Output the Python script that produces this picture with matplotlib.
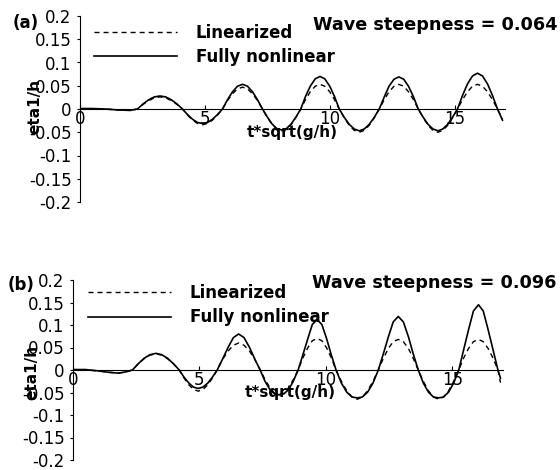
import matplotlib
matplotlib.use('Agg')
import matplotlib.pyplot as plt
from matplotlib.ticker import FuncFormatter

plt.rcParams['font.family'] = 'DejaVu Sans'
plt.rcParams['axes.unicode_minus'] = False

# ---- data ----
# panel (a): wave steepness 0.064
t_a = [0.0, 0.5, 1.0, 1.5, 2.0, 2.3,
       2.525, 2.75, 2.975, 3.2, 3.425, 3.65, 3.875, 4.1,
       4.3, 4.5, 4.7, 4.9, 5.1, 5.3, 5.5, 5.7,
       5.9, 6.1, 6.3, 6.5, 6.7, 6.9, 7.1, 7.3,
       7.49, 7.68, 7.87, 8.07, 8.26, 8.45, 8.64, 8.83,
       9.02, 9.21, 9.41, 9.6, 9.79, 9.99, 10.18, 10.37,
       10.57, 10.77, 10.97, 11.17, 11.37, 11.57, 11.77, 11.97,
       12.17, 12.36, 12.56, 12.75, 12.95, 13.14, 13.34, 13.53,
       13.73, 13.92, 14.12, 14.32, 14.51, 14.71, 14.9, 15.1,
       15.3, 15.5, 15.7, 15.9, 16.1, 16.3, 16.5, 16.7, 16.9]
lin_a = [0.0, 0.0, 0.0, -0.002, -0.003, 0.0,
         0.010, 0.018, 0.024, 0.026, 0.024, 0.018, 0.010, 0.0,
         -0.013, -0.024, -0.031, -0.034, -0.031, -0.024, -0.013, 0.0,
         0.018, 0.033, 0.043, 0.047, 0.043, 0.033, 0.018, 0.0,
         -0.018, -0.033, -0.043, -0.047, -0.043, -0.033, -0.018, 0.0,
         0.020, 0.037, 0.049, 0.053, 0.049, 0.037, 0.020, 0.0,
         -0.019, -0.035, -0.046, -0.050, -0.046, -0.035, -0.019, 0.0,
         0.020, 0.037, 0.049, 0.053, 0.049, 0.037, 0.020, 0.0,
         -0.019, -0.035, -0.046, -0.050, -0.046, -0.035, -0.019, 0.0,
         0.020, 0.037, 0.049, 0.053, 0.049, 0.037, 0.020, 0.0, -0.022]
nl_a = [0.001, 0.001, 0.0, -0.002, -0.003, 0.0,
        0.011, 0.020, 0.026, 0.028, 0.026, 0.020, 0.011, 0.0,
        -0.012, -0.022, -0.029, -0.031, -0.029, -0.022, -0.012, 0.0,
        0.020, 0.037, 0.049, 0.053, 0.049, 0.037, 0.020, 0.0,
        -0.017, -0.032, -0.042, -0.045, -0.042, -0.032, -0.017, 0.0,
        0.027, 0.049, 0.065, 0.070, 0.065, 0.049, 0.027, 0.0,
        -0.018, -0.033, -0.043, -0.047, -0.043, -0.033, -0.018, 0.0,
        0.026, 0.049, 0.064, 0.069, 0.064, 0.049, 0.026, 0.0,
        -0.018, -0.033, -0.043, -0.047, -0.043, -0.033, -0.018, 0.0,
        0.029, 0.054, 0.071, 0.077, 0.071, 0.054, 0.029, 0.0, -0.024]

# panel (b): wave steepness 0.096
t_b = [0.0, 0.5, 1.0, 1.4, 1.8, 2.1, 2.35,
       2.58, 2.81, 3.04, 3.28, 3.51, 3.74, 3.97, 4.2,
       4.39, 4.58, 4.76, 4.95, 5.14, 5.33, 5.51, 5.7,
       5.91, 6.13, 6.34, 6.55, 6.76, 6.98, 7.19, 7.4,
       7.59, 7.78, 7.96, 8.15, 8.34, 8.53, 8.71, 8.9,
       9.09, 9.28, 9.46, 9.65, 9.84, 10.03, 10.21, 10.4,
       10.61, 10.82, 11.03, 11.24, 11.44, 11.65, 11.86, 12.07,
       12.27, 12.47, 12.66, 12.86, 13.06, 13.26, 13.45, 13.65,
       13.85, 14.05, 14.25, 14.45, 14.65, 14.85, 15.05, 15.25,
       15.44, 15.64, 15.83, 16.03, 16.22, 16.41, 16.61, 16.8, 16.9]
lin_b = [0.0, 0.0, -0.002, -0.005, -0.007, -0.004, 0.0,
         0.014, 0.025, 0.033, 0.036, 0.033, 0.025, 0.014, 0.0,
         -0.018, -0.033, -0.043, -0.047, -0.043, -0.033, -0.018, 0.0,
         0.023, 0.042, 0.055, 0.060, 0.055, 0.042, 0.023, 0.0,
         -0.021, -0.039, -0.051, -0.055, -0.051, -0.039, -0.021, 0.0,
         0.027, 0.049, 0.065, 0.070, 0.065, 0.049, 0.027, 0.0,
         -0.025, -0.046, -0.060, -0.065, -0.060, -0.046, -0.025, 0.0,
         0.026, 0.048, 0.063, 0.068, 0.063, 0.048, 0.026, 0.0,
         -0.025, -0.046, -0.060, -0.065, -0.060, -0.046, -0.025, 0.0,
         0.026, 0.048, 0.063, 0.068, 0.063, 0.048, 0.026, 0.0, -0.028]
nl_b = [0.001, 0.001, -0.002, -0.005, -0.007, -0.004, 0.0,
        0.014, 0.026, 0.034, 0.037, 0.034, 0.026, 0.014, 0.0,
        -0.016, -0.029, -0.038, -0.041, -0.038, -0.029, -0.016, 0.0,
        0.024, 0.050, 0.072, 0.080, 0.072, 0.050, 0.024, 0.0,
        -0.025, -0.043, -0.053, -0.055, -0.053, -0.043, -0.025, 0.0,
        0.034, 0.069, 0.101, 0.112, 0.101, 0.069, 0.034, 0.0,
        -0.029, -0.049, -0.060, -0.062, -0.060, -0.049, -0.029, 0.0,
        0.036, 0.074, 0.107, 0.119, 0.107, 0.074, 0.036, 0.0,
        -0.029, -0.049, -0.060, -0.062, -0.060, -0.049, -0.029, 0.0,
        0.044, 0.090, 0.131, 0.145, 0.131, 0.090, 0.044, 0.0, -0.018]

x_ticks = [0, 5, 10, 15]
y_ticks = [-0.2, -0.15, -0.1, -0.05, 0, 0.05, 0.1, 0.15, 0.2]

W, H = 560, 470
fig = plt.figure(figsize=(5.6, 4.7), dpi=100)


def px(x, y):
    # pixel position -> figure fraction
    return (x / W, 1 - y / H)


def draw_panel(rect, t, lin, nl, tag, steep, tag_xy, steep_xy, leg_xy, ylab_xy, xlab_xy):
    ax = fig.add_axes(rect)
    ax.plot(t, lin, color='black', lw=1.0, dashes=(3.6, 2.9), label='Linearized')
    ax.plot(t, nl, color='black', lw=1.2, label='Fully nonlinear')
    ax.set_xlim(0, 17)
    ax.set_ylim(-0.2, 0.2)
    ax.spines['top'].set_visible(False)
    ax.spines['right'].set_visible(False)
    ax.spines['bottom'].set_position('zero')
    ax.set_xticks(x_ticks)
    ax.set_yticks(y_ticks)
    ax.yaxis.set_major_formatter(FuncFormatter(lambda v, p: '%g' % (round(v, 2) + 0.0)))
    ax.tick_params(axis='x', direction='in', length=3, pad=1, labelsize=12)
    ax.tick_params(axis='y', direction='out', length=2.5, pad=3.5, labelsize=12)
    ax.legend(loc='upper left', bbox_to_anchor=px(*leg_xy), bbox_transform=fig.transFigure,
              frameon=False, prop=dict(weight='bold', size=12), handlelength=5.0,
              handletextpad=1.1, labelspacing=0.38, borderpad=0, borderaxespad=0)
    fig.text(*px(*tag_xy), tag, fontsize=12, fontweight='bold', va='center')
    fig.text(*px(*steep_xy), steep, fontsize=12.7, fontweight='bold', va='center')
    fig.text(*px(*ylab_xy), 'eta1/h', fontsize=11, fontweight='bold', rotation=90,
             ha='center', va='center')
    fig.text(*px(*xlab_xy), 't*sqrt(g/h)', fontsize=11, fontweight='bold', va='center')
    return ax


draw_panel([80 / W, 1 - 202 / H, 425 / W, 186 / H], t_a, lin_a, nl_a,
           '(a)', 'Wave steepness = 0.064', (13, 23), (313, 25), (94, 24), (35, 106), (247, 133))
draw_panel([73 / W, 1 - 460 / H, 430 / W, 180 / H], t_b, lin_b, nl_b,
           '(b)', 'Wave steepness = 0.096', (8, 285), (312, 283), (88, 284), (32, 372), (245, 393))

fig.savefig('out.png', dpi=100)
